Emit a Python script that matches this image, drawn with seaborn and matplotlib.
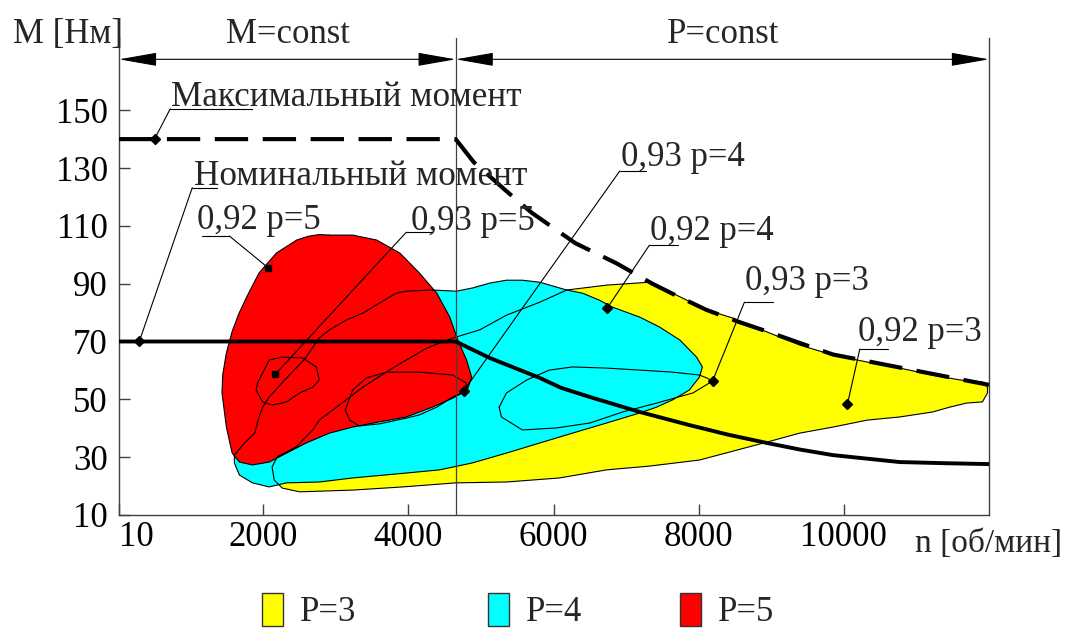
import matplotlib
matplotlib.use("Agg")
import matplotlib.pyplot as plt
import seaborn as sns
from matplotlib.patches import Patch

# speed n [rpm] and torque M [Nm]
max_n = [10, 4650, 4900, 5350, 5700, 6300, 6870, 7360, 7640, 8100, 8560, 8940, 9390, 9850, 10770, 11690, 12000]
max_m = [140, 140, 132, 122, 114.5, 104, 97, 90, 86.5, 81, 76.7, 73.5, 69.5, 65.5, 61, 56.5, 55]

nom_n = [10, 4650, 5120, 5500, 5810, 6100, 6500, 7190, 7870, 8400, 8940, 9400, 9850, 10770, 11400, 12000]
nom_m = [70, 70, 64.3, 60.5, 57.4, 54, 50.8, 45.6, 41.1, 37.8, 34.9, 32.6, 30.7, 28.3, 27.9, 27.6]

# best-region outlines (p = number of pole pairs)
yellow_n = [6180, 5810, 5350, 4980, 4610, 4250, 3780, 3370, 3010, 2770, 2680, 2450, 2190, 2120, 2150,
            2260, 2500, 3230, 3920, 4650, 5350, 6080, 6730, 7320, 8010, 8940, 9390, 9850, 10320, 10770,
            11220, 11460, 11690, 11910, 11980, 11980, 11910, 11600, 11220, 10770, 10320, 9850, 9390,
            8940, 8470, 8110, 7640, 7320, 6730]
yellow_m = [87.8, 83.6, 79.1, 74.0, 71.2, 67.7, 60.8, 54.2, 47.3, 42.8, 39.4, 33.5, 30.1, 26.6, 22.1,
            19.3, 18.0, 18.6, 19.7, 21.1, 21.4, 22.8, 25.6, 26.9, 29.0, 35.2, 38.3, 40.4, 42.8, 43.9,
            45.6, 47.3, 48.7, 49.1, 52.2, 54.2, 56.0, 56.7, 58.4, 60.8, 62.9, 65.3, 68.8,
            73.3, 78.1, 80.9, 86.7, 90.5, 89.5]

cyan_n = [4330, 4660, 4880, 5120, 5350, 5570, 5810, 6180, 6400, 6630, 6810, 7190, 7460, 7740, 7970,
          8050, 8010, 7870, 7640, 7420, 7190, 6730, 6260, 5810, 5350, 4880, 4430, 3970, 3230, 2770,
          2320, 2080, 1850, 1670, 1600, 1600, 1740, 1880, 1940, 1990, 2080, 2320, 2560, 2770, 2910,
          3140, 3370, 3600, 3830, 3970]
cyan_m = [87.8, 87.4, 88.5, 90.2, 91.2, 91.2, 90.5, 87.8, 86.7, 84.3, 81.9, 78.4, 75.0, 70.5, 64.6,
          61.2, 57.7, 53.2, 49.8, 47.3, 45.3, 41.8, 38.3, 34.9, 31.4, 28.0, 25.6, 24.5, 22.8, 21.4,
          21.1, 19.7, 21.1, 23.8, 28.0, 30.7, 34.9, 38.3, 43.9, 47.3, 50.8, 57.4, 63.6, 71.2, 74.0,
          77.4, 79.8, 83.3, 86.7, 87.4]

red_n = [2910, 3230, 3560, 3880, 4150, 4390, 4570, 4680, 4800, 4870, 4810, 4610, 4330, 3970, 3600, 3230,
         2910, 2590, 2320, 2080, 1850, 1670, 1570, 1490, 1430, 1440, 1490, 1570, 1660, 1770, 1940, 2180,
         2460, 2620, 2770]
red_m = [106.8, 106.8, 105.1, 100.6, 93.7, 86.7, 78.4, 70.5, 63.6, 57.7, 53.2, 50.4, 47.3, 43.9, 42.2, 40.4,
         38.3, 34.9, 31.4, 28.3, 27.3, 28.3, 31.4, 40.4, 52.2, 58.5, 66.0, 73.5, 79.5, 85.4, 93.7, 100.6,
         105.1, 106.4, 107.0]

# efficiency contour loops
loop1_n = [1920, 2080, 2260, 2540, 2730, 2770, 2680, 2500, 2320, 2120, 1990, 1900]
loop1_m = [55.6, 63.6, 64.6, 64.3, 61.2, 56.7, 54.2, 52.2, 49.1, 48.0, 49.1, 53.2]
loop2_n = [3130, 3230, 3420, 3700, 4150, 4610, 4800, 4770, 4610, 4390, 4150, 3970, 3600, 3320, 3190]
loop2_m = [46.3, 53.2, 57.4, 59.4, 59.4, 58.4, 55.6, 52.5, 50.8, 47.3, 44.6, 43.5, 41.5, 40.8, 42.8]
loop3_n = [5250, 5350, 5630, 5940, 6260, 6730, 7190, 7640, 8010, 8110, 8190, 7920, 7420, 6950, 6500, 6040, 5570, 5280]
loop3_m = [47.3, 52.2, 56.7, 60.1, 61.2, 60.8, 60.1, 59.4, 58.4, 57.4, 56.3, 52.2, 48.7, 45.6, 41.8, 40.1, 39.4, 43.9]

# labelled points
mark_labels = ["Максимальный момент", "Номинальный момент", "0,92 p=5", "0,93 p=5",
               "0,93 p=4", "0,92 p=4", "0,93 p=3", "0,92 p=3"]
mark_n = [500, 290, 2070, 2165, 4760, 6740, 8190, 10050]
mark_m = [140, 70, 95.4, 58.7, 52.9, 81.6, 56.3, 48.4]

x_ticks = [10, 2000, 4000, 6000, 8000, 10000]
x_tick_labels = ["10", "2000", "4000", "6000", "8000", "10000"]
y_ticks = [10, 30, 50, 70, 90, 110, 130, 150]
n_switch = 4650

legend_labels = ["P=3", "P=4", "P=5"]
legend_colors = ["#ffff00", "#00ffff", "#ff0000"]

# label layout: text (left, baseline), underline (x0, x1, y), leader joins underline at x
label_layout = [
    dict(tx=730, ty=151.5, ux=(717, 1848), uy=150.5, lx=717, marker="D", fs=25.3),
    dict(tx=1048, ty=124.0, ux=(1020, 1365), uy=123.2, lx=1020, marker="D", fs=25.3),
    dict(tx=1089, ty=108.8, ux=(1158, 1531), uy=106.5, lx=1531, marker="s", fs=25),
    dict(tx=4040, ty=108.5, ux=(3970, 4320), uy=107.8, lx=3970, marker="s", fs=25),
    dict(tx=6922, ty=130.6, ux=(6910, 7280), uy=128.9, lx=6910, marker="D", fs=25),
    dict(tx=7322, ty=105.1, ux=(7320, 7710), uy=103.3, lx=7320, marker="D", fs=25),
    dict(tx=8633, ty=87.8, ux=(8630, 9030), uy=83.6, lx=8630, marker="D", fs=25),
    dict(tx=10191, ty=70.0, ux=(10220, 10610), uy=67.4, lx=10220, marker="D", fs=25),
]

sns.set_theme(style="white")
plt.rcParams["font.family"] = ["Liberation Serif", "DejaVu Serif"]
plt.rcParams["font.size"] = 25
FS = 25

fig = plt.figure(figsize=(10.68, 6.28), dpi=100)
ax = fig.add_axes([0.1114, 0.180, 0.8146, 0.7596])

# filled regions
for n, m, col in [(yellow_n, yellow_m, legend_colors[0]),
                  (cyan_n, cyan_m, legend_colors[1]),
                  (red_n, red_m, legend_colors[2])]:
    ax.fill(n, m, facecolor=col, edgecolor="none", zorder=1)

# all outlines on top of the fills
for n, m in [(yellow_n, yellow_m), (cyan_n, cyan_m), (red_n, red_m),
             (loop1_n, loop1_m), (loop2_n, loop2_m), (loop3_n, loop3_m)]:
    ax.plot(n + n[:1], m + m[:1], color="black", lw=0.8, zorder=2)

# torque limits
sns.lineplot(x=max_n, y=max_m, ax=ax, color="black", lw=3, linestyle=(0, (8, 3.5)), zorder=3)
sns.lineplot(x=nom_n, y=nom_m, ax=ax, color="black", lw=2.8, zorder=3)

# labels, leaders and markers
for lab, n, m, lay in zip(mark_labels, mark_n, mark_m, label_layout):
    ax.plot([n, lay["lx"]], [m, lay["uy"]], color="black", lw=0.8, zorder=4)
    ax.plot(list(lay["ux"]), [lay["uy"], lay["uy"]], color="black", lw=0.8, zorder=4)
    ax.plot([n], [m], marker=lay["marker"], color="black", ms=5, zorder=5)
    ax.text(lay["tx"], lay["ty"], lab, ha="left", va="baseline", fontsize=lay["fs"], zorder=6)

# divider between constant torque and constant power zones
ax.plot([n_switch, n_switch], [10, 175], color="#404040", lw=0.9, zorder=2)
arrow_kw = dict(arrowstyle="<|-|>,head_length=2.4,head_width=0.42", mutation_scale=10,
                color="black", lw=0.8, shrinkA=0, shrinkB=0)
ax.annotate("", xy=(n_switch, 167.6), xytext=(10, 167.6), arrowprops=arrow_kw)
ax.annotate("", xy=(12000, 167.6), xytext=(n_switch, 167.6), arrowprops=arrow_kw)

ax.set_xlim(10, 12000)
ax.set_ylim(10, 175)
ax.set_xticks(x_ticks)
ax.set_xticklabels(x_tick_labels)
ax.get_xticklabels()[0].set_horizontalalignment("left")
ax.set_yticks(y_ticks)
ax.set_yticklabels([str(v) for v in y_ticks])
ax.tick_params(axis="both", direction="in", length=8, width=1, color="#404040",
               labelsize=FS, labelcolor="black", bottom=True, left=True)
ax.tick_params(axis="x", pad=4.0)
ax.tick_params(axis="y", pad=8.0)
ax.spines["top"].set_visible(False)
for side in ["left", "right", "bottom"]:
    ax.spines[side].set_color("#404040")
    ax.spines[side].set_linewidth(1)
ax.set_xlabel("")
ax.set_ylabel("")

fig.text(13 / 1068, 1 - 43 / 628, "M [Нм]", ha="left", va="baseline", fontsize=FS)
fig.text(288 / 1068, 1 - 43 / 628, "M=const", ha="center", va="baseline", fontsize=FS)
fig.text(723 / 1068, 1 - 43 / 628, "P=const", ha="center", va="baseline", fontsize=FS)
fig.text(1062 / 1068, 1 - 552 / 628, "n [об/мин]", ha="right", va="baseline", fontsize=24)

# legend: one entry per box, spaced as in the original
for x0, lab, col in zip([262 / 1068, 488 / 1068, 680 / 1068], legend_labels, legend_colors):
    fig.legend(handles=[Patch(facecolor=col, edgecolor="#333333", lw=1)], labels=[lab],
               loc="center left", bbox_to_anchor=(x0, 1 - 611 / 628), frameon=False,
               borderpad=0, borderaxespad=0, handlelength=0.6, handleheight=1.1,
               handletextpad=0.5, fontsize=FS)

fig.savefig("out.png", dpi=100)
